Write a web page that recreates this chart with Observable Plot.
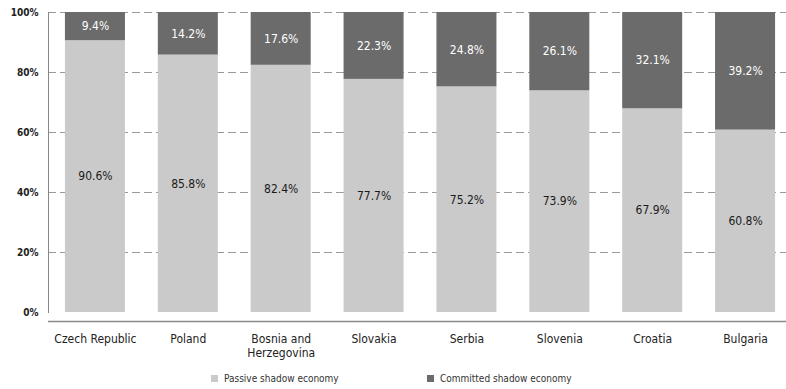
<!DOCTYPE html>
<html>
<head>
<meta charset="utf-8">
<script src="https://cdn.jsdelivr.net/npm/d3@7"></script>
<script src="https://cdn.jsdelivr.net/npm/@observablehq/plot@0.6"></script>
<style>
  html, body { margin: 0; padding: 0; background: #fff; overflow: hidden; }
  #wrap { position: relative; width: 786px; height: 389px; font-family: "DejaVu Sans Condensed", "DejaVu Sans", sans-serif; }
  #legend { position: absolute; left: 0; top: 365px; width: 786px; height: 24px; }
  .item { position: absolute; top: 8px; display: flex; align-items: center; font-size: 10px; color: #333; white-space: nowrap; }
  .sw { width: 7px; height: 7px; margin-right: 6px; }
</style>
</head>
<body>
<div id="wrap">
  <div id="chart"></div>
  <div id="legend"></div>
</div>
<script>
// Share of the shadow economy by type, per country (percent)
const countries = ["Czech Republic", "Poland", "Bosnia and\nHerzegovina", "Slovakia", "Serbia", "Slovenia", "Croatia", "Bulgaria"];
const passive   = [90.6, 85.8, 82.4, 77.7, 75.2, 73.9, 67.9, 60.8];
const committed = [9.4, 14.2, 17.6, 22.3, 24.8, 26.1, 32.1, 39.2];
const seriesNames  = ["Passive shadow economy", "Committed shadow economy"];
const seriesColors = ["#cacaca", "#6b6b6b"];
const labelColors  = ["#1a1a1a", "#ffffff"];
const yTicks = [0, 20, 40, 60, 80, 100];

// Long-format rows: passive first so it sits at the bottom of each stack
const rows = [];
countries.forEach((c, i) => {
  rows.push({country: c, series: seriesNames[0], value: passive[i]});
  rows.push({country: c, series: seriesNames[1], value: committed[i]});
});

const font = "DejaVu Sans Condensed, DejaVu Sans, sans-serif";

const chart = Plot.plot({
  width: 786,
  height: 365,
  marginTop: 12,
  marginBottom: 53,
  marginLeft: 48,
  marginRight: 0,
  style: {fontFamily: font, fontSize: "10px", color: "#222", background: "#fff"},
  x: {domain: countries, range: [48.5, 791.5], paddingInner: 0.354, paddingOuter: 0.177, round: false, label: null},
  y: {domain: [0, 100], label: null},
  color: {domain: seriesNames, range: seriesColors},
  marks: [
    Plot.gridY(yTicks.filter(t => t > 0), {stroke: "#9a9a9a", strokeOpacity: 1, strokeDasharray: "8,4"}),
    Plot.barY(rows, {x: "country", y: "value", fill: "series"}),
    Plot.text(rows, Plot.stackY({
      x: "country", y: "value",
      text: d => d.value.toFixed(1) + "%",
      fill: d => labelColors[seriesNames.indexOf(d.series)],
      fontSize: 12
    })),
    Plot.frame({anchor: "left", stroke: "#888"}),
    Plot.ruleY([0], {dy: 9, stroke: "#888", strokeWidth: 1.5}),
    Plot.axisY({ticks: yTicks, tickFormat: d => d + "%", tickSize: 0, tickPadding: 10, fontWeight: "bold", fill: "#222"}),
    Plot.axisX({tickSize: 0, tickPadding: 20, fontSize: 12, lineHeight: 1.2, fill: "#222"})
  ]
});
document.getElementById("chart").appendChild(chart);

// Legend below the chart
const legend = document.getElementById("legend");
const legendLeft = [211, 427];
seriesNames.forEach((name, i) => {
  const item = document.createElement("div");
  item.className = "item";
  item.style.left = legendLeft[i] + "px";
  const sw = document.createElement("span");
  sw.className = "sw";
  sw.style.background = seriesColors[i];
  const label = document.createElement("span");
  label.textContent = name;
  item.appendChild(sw);
  item.appendChild(label);
  legend.appendChild(item);
});
</script>
</body>
</html>
